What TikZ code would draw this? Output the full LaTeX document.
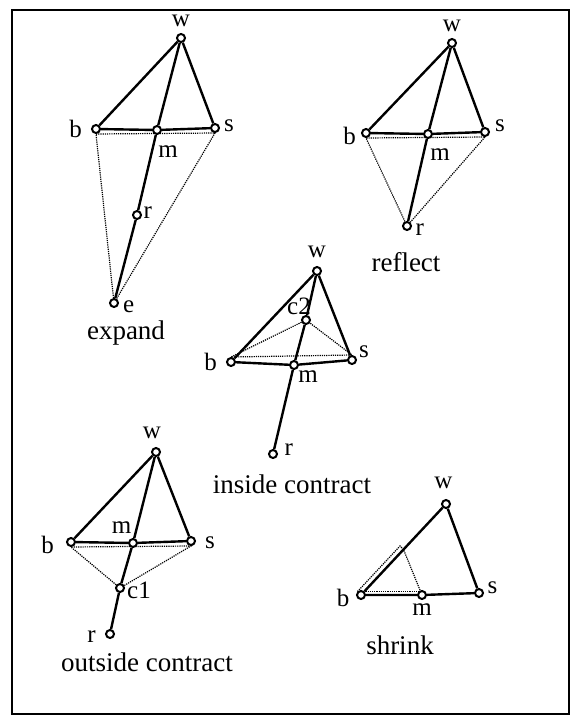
\documentclass[tikz,border=0pt]{standalone}
\usepackage{fontspec}
\setmainfont{Liberation Serif}
\usetikzlibrary{positioning}

\begin{document}
\begin{tikzpicture}[x=1pt, y=-1pt,
        pt/.style={circle, draw, line width=2pt, minimum size=8pt, inner sep=0pt, fill=white},
        link/.style={line width=2.4pt},
        dotline/.style={line width=1.2pt, dash pattern=on 1.2pt off 1pt},
        lbl/.style={font=\fontsize{25}{25}\selectfont, inner sep=0pt},
        captxt/.style={font=\fontsize{27}{27}\selectfont, inner sep=0pt}]
        \useasboundingbox (0,0) rectangle (571,718);
        % moldura
        \draw[line width=1.8pt] (12,10) rectangle (569,714);

        % expand
        \node[pt] (ew) at (181,38) {};
        \node[pt] (eb) at (96,129) {};
        \node[pt] (em) at (157,130) {};
        \node[pt] (es) at (215,128) {};
        \node[pt] (er) at (137,215) {};
        \node[pt] (ee) at (114,303) {};
        \node[lbl, above=6pt of ew] (ewl) {w};
        \node[lbl, left=9pt of eb] (ebl) {b};
        \node[lbl, right=4pt of es, yshift=2pt] (esl) {s};
        \node[lbl, below=11pt of em, xshift=11pt] (eml) {m};
        \node[lbl, right=1.5pt of er, yshift=2pt] (erl) {r};
        \node[lbl, right=4pt of ee, yshift=-4pt] (eel) {e};
        \node[captxt, below=13pt of ee, xshift=12pt] (ecap) {expand};
        \draw[link] (ew) -- (eb);
        \draw[link] (ew) -- (es);
        \draw[link] (eb) -- (em) -- (es);
        \draw[link] (ew) -- (em) -- (er) -- (ee);
        \draw[dotline] (ee) -- (eb.south) -- (es.south) -- (ee);

        % reflect
        \node[pt] (rw) at (452,43) {};
        \node[pt] (rb) at (366,133) {};
        \node[pt] (rm) at (428,134) {};
        \node[pt] (rs) at (485,132) {};
        \node[pt] (rr) at (407,226) {};
        \node[lbl, above=6pt of rw] (rwl) {w};
        \node[lbl, left=5pt of rb, yshift=-3pt] (rbl) {b};
        \node[lbl, right=5pt of rs, yshift=6pt] (rsl) {s};
        \node[lbl, below=9.5pt of rm, xshift=12pt] (rml) {m};
        \node[lbl, right=3.5pt of rr, yshift=-4pt] (rrl) {r};
        \node[captxt, below=21pt of rr, xshift=-1pt] (rcap) {reflect};
        \draw[link] (rw) -- (rb);
        \draw[link] (rw) -- (rs);
        \draw[link] (rb) -- (rm) -- (rs);
        \draw[link] (rw) -- (rm) -- (rr);
        \draw[dotline] (rr) -- (rb.south) -- (rs.south) -- (rr);

        % inside contract
        \node[pt] (iw) at (317,271) {};
        \node[pt] (ic) at (306,320) {};
        \node[pt] (ib) at (231,362) {};
        \node[pt] (im) at (294,365) {};
        \node[pt] (is) at (352,360) {};
        \node[pt] (ir) at (273,454) {};
        \node[lbl, above=8pt of iw] (iwl) {w};
        \node[lbl, above=0pt of ic, xshift=-7pt] (icl) {c2};
        \node[lbl, left=9pt of ib] (ibl) {b};
        \node[lbl, right=2pt of is, yshift=8pt] (isl) {s};
        \node[lbl, below=1pt of im, xshift=14pt] (iml) {m};
        \node[lbl, right=6.5pt of ir, yshift=4pt] (irl) {r};
        \node[captxt, below=16pt of ir, xshift=19pt] (icap) {inside contract};
        \draw[link] (iw) -- (ib);
        \draw[link] (iw) -- (is);
        \draw[link] (ib) -- (im) -- (is);
        \draw[link] (iw) -- (ic) -- (im) -- (ir);
        \draw[dotline] (ic) -- (ib.north) -- (is.north) -- (ic);

        % outside contract
        \node[pt] (ow) at (156,452) {};
        \node[pt] (ob) at (71,542) {};
        \node[pt] (om) at (133,543) {};
        \node[pt] (os) at (191,541) {};
        \node[pt] (oc) at (120,588) {};
        \node[pt] (or) at (110,634) {};
        \node[lbl, above=8pt of ow, xshift=-4pt] (owl) {w};
        \node[lbl, above=4pt of om, xshift=-11.5pt] (oml) {m};
        \node[lbl, right=9pt of os, yshift=-1.5pt] (osl) {s};
        \node[lbl, left=12pt of ob, yshift=-3pt] (obl) {b};
        \node[lbl, right=2pt of oc, yshift=-2pt] (ocl) {c1};
        \node[lbl, left=9pt of or, yshift=-2.5pt] (orl) {r};
        \node[captxt, below=14pt of or, xshift=37pt] (ocap) {outside contract};
        \draw[link] (ow) -- (ob);
        \draw[link] (ow) -- (os);
        \draw[link] (ob) -- (om) -- (os);
        \draw[link] (ow) -- (om) -- (oc) -- (or);
        \draw[dotline] (oc) -- (ob.south) -- (os.south) -- (oc);

        % shrink
        \node[pt] (sw) at (446,504) {};
        \node[pt] (sb) at (361,595) {};
        \node[pt] (sm) at (422,595) {};
        \node[pt] (ss) at (479,593) {};
        \coordinate (sh) at (403.5,549.5);
        \node[lbl, above=10pt of sw, xshift=-2.5pt] (swl) {w};
        \node[lbl, left=6.5pt of sb, yshift=-3pt] (sbl) {b};
        \node[lbl, right=3.5pt of ss, yshift=5.5pt] (ssl) {s};
        \node[lbl, below=4pt of sm] (sml) {m};
        \node[captxt, below=36pt of sm, xshift=-22pt] (scap) {shrink};
        \draw[link] (sw) -- (sb);
        \draw[link] (sw) -- (ss);
        \draw[link] (sb) -- (sm) -- (ss);
        \draw[dotline] ([xshift=-3.5pt, yshift=3.5pt]sb.center) -- ([xshift=-3.5pt, yshift=3.5pt]sh) -- (sh) -- (sm);
        \draw[dotline] ([yshift=-1.5pt]sb.north) -- ([yshift=-1.5pt]sm.north);
\end{tikzpicture}
\end{document}
